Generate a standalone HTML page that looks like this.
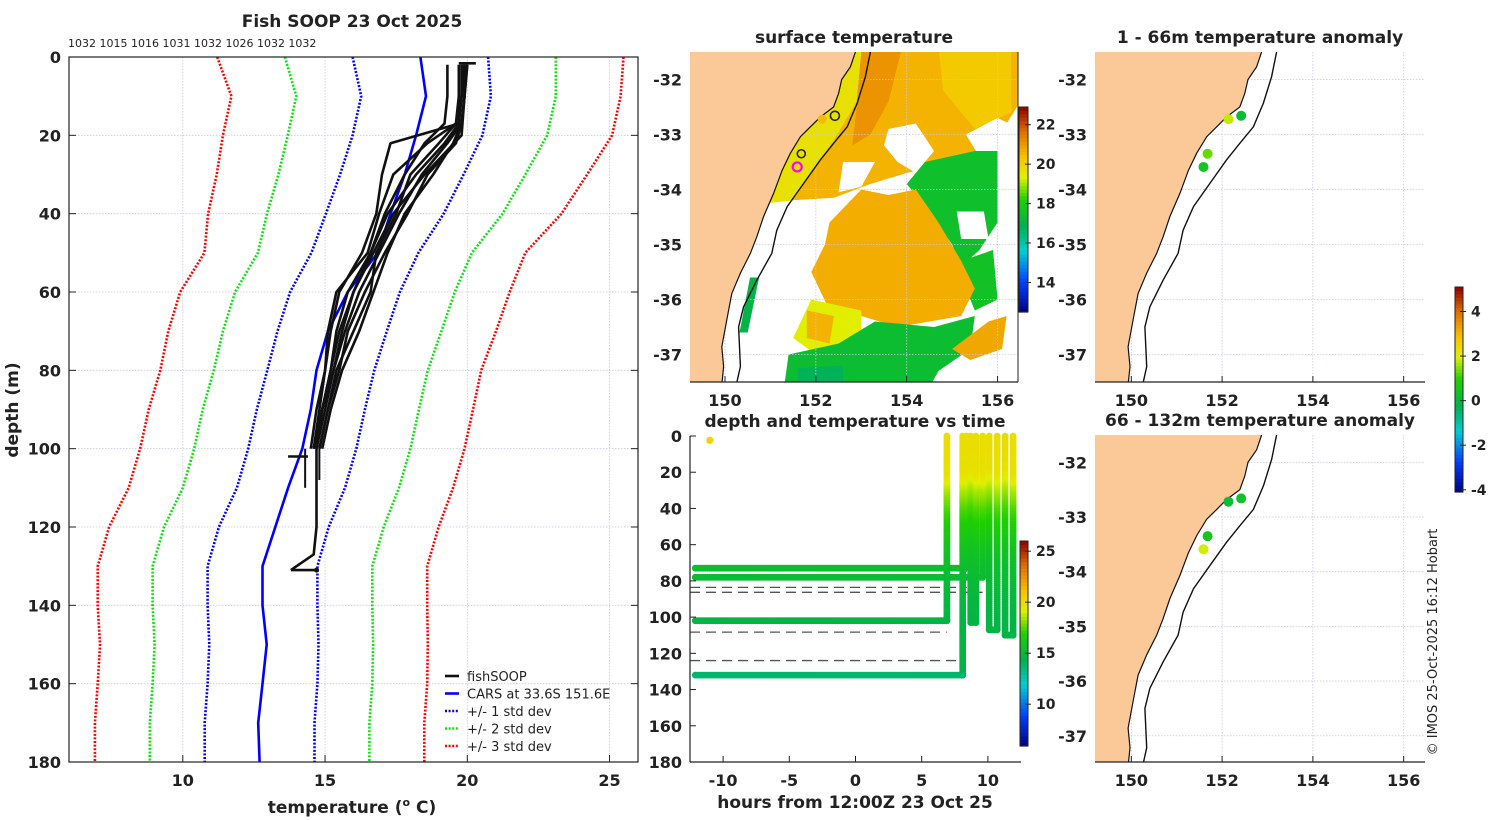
<!DOCTYPE html>
<html><head><meta charset="utf-8">
<style>
html,body{margin:0;padding:0;background:#fff;}
svg{display:block;font-family:"DejaVu Sans","Liberation Sans",sans-serif;}
.b{font-weight:bold;fill:#222;}
</style></head>
<body>
<svg id="fig" xmlns="http://www.w3.org/2000/svg" width="1500" height="820" viewBox="0 0 1500 820">
<rect x="0" y="0" width="1500" height="820" fill="#fff"/>
</svg>
<script>
// ---------- profile panel data ----------
const depthLevels = [0,10,20,30,40,50,60,70,80,90,100,110,120,130,140,150,160,170,180];
const carsMean = [18.35,18.55,18.2,17.8,17.3,16.85,15.8,15.1,14.7,14.5,14.2,13.7,13.25,12.8,12.8,12.95,12.8,12.65,12.7];
const bandMean = [18.35,18.55,18.25,17.7,17.1,16.4,15.7,15.25,14.85,14.5,14.2,13.8,13.2,12.8,12.8,12.85,12.8,12.7,12.7];
const bandStd = [2.38,2.28,2.28,2.17,2.07,1.88,1.93,1.92,1.88,1.9,1.9,1.9,1.93,1.93,1.93,1.92,1.93,1.93,1.93];
const profDepths = [2,10,17,22,30,40,50,60,70,80,90,100];
const prof1 = [19.8,19.8,19.7,17.3,17.0,16.8,16.3,15.5,15.2,15.0,14.8,14.6];
const prof2 = [19.9,19.8,19.6,18.6,17.4,16.9,16.5,15.4,15.1,15.0,14.7,14.5];
const prof3 = [20.0,19.9,19.8,19.3,18.4,17.6,16.9,16.2,15.7,15.3,15.0,14.7];
const prof4 = [19.7,19.7,19.6,19.0,18.0,17.5,16.8,16.6,16.0,15.4,15.1,14.8];
const prof5 = [19.9,19.9,19.8,19.5,18.8,17.8,17.2,16.7,16.2,15.6,15.2,14.9];
const prof6 = [19.8,19.8,19.7,19.2,18.2,17.2,16.6,15.8,15.4,15.2,14.9,14.6];
const prof7 = [20.0,19.9,19.8,19.6,18.6,17.9,17.1,16.4,15.8,15.5,15.1,14.8];
const prof8 = [19.3,19.3,19.2,18.5,17.8,17.1,16.6,16.0,15.6,15.3,14.9,14.6];
const longDepths = [2,10,20,30,40,50,60,70,80,90,100,110,120,127,131];
const longTemps = [19.9,19.9,19.8,18.5,17.4,16.7,16.0,15.5,15.2,14.9,14.7,14.7,14.7,14.6,13.8];
const tempTicks = [10,15,20,25];
const depthTicks = [0,20,40,60,80,100,120,140,160,180];
// ---------- depth/time panel data ----------
const trackA = [[-12.1,102],[6.9,102],[6.9,0]];
const trackB = [[-12.1,132],[8.1,132],[8.1,0]];
const trackC = [[-12.1,73],[8.4,73],[8.4,0]];
const trackD = [[-12.1,78],[9.6,78],[9.6,0]];
const trackE = [[8.7,0],[8.7,103],[9.1,103],[9.1,0]];
const trackF = [[10.1,0],[10.1,107],[10.7,107],[10.7,0]];
const trackG = [[11.3,0],[11.3,110],[11.9,110],[11.9,0]];
const dashDepths = [83.6,86.3,108.3,124];
const dashEnds = [8.4,9.6,6.9,8.1];
const hourTicks = [-10,-5,0,5,10];
// ---------- map data ----------
const coastLon = [152.87,152.76,152.57,152.5,152.39,152.1,151.88,151.66,151.44,151.26,151.07,150.85,150.7,150.56,150.34,150.15,150.04,149.93,149.97,149.93];
const coastLat = [-31.5,-31.77,-32.0,-32.25,-32.5,-32.68,-32.86,-33.04,-33.34,-33.65,-34.07,-34.49,-34.86,-35.16,-35.52,-35.89,-36.37,-36.86,-37.22,-37.55];
const shelfLon = [153.2,153.09,152.91,152.69,152.39,152.1,151.73,151.37,151.14,151.03,150.7,150.41,150.3,150.34,150.25];
const shelfLat = [-31.5,-31.95,-32.43,-32.86,-33.16,-33.46,-33.89,-34.31,-34.74,-35.16,-35.65,-36.13,-36.5,-37.22,-37.55];
const stnLon = [152.14,152.42,151.68,151.59];
const stnLat = [-32.72,-32.66,-33.35,-33.59];
const anomUpper = [1.8,0.2,1.3,0.5];
const anomLower = [0.2,0.4,0.5,1.9];
const lonTicks = [150,152,154,156];
const latTicks = [-32,-33,-34,-35,-36,-37];

const NS='http://www.w3.org/2000/svg';
const svg=document.getElementById('fig');
function mk(parent,tag,attrs,name){
  const el=document.createElementNS(NS,tag);
  for(const k in attrs) el.setAttribute(k,attrs[k]);
  
  
  parent.appendChild(el);
  return el;
}
function txt(parent,x,y,s,size,cls,anchor,name,extra){
  const a={x:x,y:y,'font-size':size,'text-anchor':anchor||'middle',fill:'#222'};
  if(cls) a['class']=cls;
  if(extra) for(const k in extra) a[k]=extra[k];
  const t=mk(parent,'text',a,name);
  t.textContent=s;
  return t;
}
const stops=[[0,[0,0,127]],[0.15,[0,64,255]],[0.3,[0,208,208]],[0.42,[0,176,80]],[0.55,[32,208,0]],[0.66,[224,240,0]],[0.76,[248,192,0]],[0.88,[224,112,0]],[1,[144,0,0]]];
function cmap(t){
  t=Math.max(0,Math.min(1,t));
  for(let i=1;i<stops.length;i++){
    if(t<=stops[i][0]){
      const a=stops[i-1],b=stops[i],f=(t-a[0])/(b[0]-a[0]);
      const c=a[1].map((v,j)=>Math.round(v+(b[1][j]-v)*f));
      return 'rgb('+c.join(',')+')';
    }
  }
  return 'rgb(144,0,0)';
}
function colorbar(x,y,w,h,vmin,vmax,ticks,name){
  const g=mk(svg,'g',{},name);
  const n=60;
  for(let i=0;i<n;i++){
    mk(g,'rect',{x:x,y:y+h-(i+1)*h/n,width:w,height:h/n+0.6,fill:cmap((i+0.5)/n)},'colorbar-segment');
  }
  mk(g,'rect',{x:x,y:y,width:w,height:h,fill:'none',stroke:'#222','stroke-width':1},'colorbar-frame');
  ticks.forEach(v=>{
    const yy=y+h-(v-vmin)/(vmax-vmin)*h;
    mk(g,'line',{x1:x+w-3,x2:x+w+3,y1:yy,y2:yy,stroke:'#222'},'colorbar-tick');
    txt(g,x+w+8,yy+5,String(v),14,'b','start','colorbar-label');
  });
  return g;
}

// ================= LEFT PROFILE PANEL =================
(function(){
  const L=69,R=638,T=57,B=762,tmin=6,tmax=26,dmax=180;
  const X=t=>L+(t-tmin)/(tmax-tmin)*(R-L);
  const Y=d=>T+d/dmax*(B-T);
  const g=mk(svg,'g',{},'profile-panel');
  tempTicks.forEach(t=>mk(g,'line',{x1:X(t),x2:X(t),y1:T,y2:B,stroke:'#c8c8e4','stroke-width':0.8,'stroke-dasharray':'1.5,1.5'},'x-gridline'));
  depthTicks.forEach(d=>mk(g,'line',{x1:L,x2:R,y1:Y(d),y2:Y(d),stroke:'#c8c8e4','stroke-width':0.8,'stroke-dasharray':'1.5,1.5'},'y-gridline'));
  const line=(xs,ys,attrs,name)=>mk(g,'polyline',Object.assign({points:xs.map((v,i)=>X(v).toFixed(1)+','+Y(ys[i]).toFixed(1)).join(' '),fill:'none'},attrs),name);
  const cols={1:'#0000ff',2:'#10e010',3:'#ff0000'};
  [3,2,1].forEach(k=>{
    line(bandMean.map((m,i)=>m-k*bandStd[i]),depthLevels,{stroke:cols[k],'stroke-width':2.6,'stroke-dasharray':'2,1.6'},'std-band-minus-'+k);
    line(bandMean.map((m,i)=>m+k*bandStd[i]),depthLevels,{stroke:cols[k],'stroke-width':2.6,'stroke-dasharray':'2,1.6'},'std-band-plus-'+k);
  });
  line(carsMean,depthLevels,{stroke:'#0000ff','stroke-width':2.6},'cars-mean-line');
  [prof1,prof2,prof3,prof4,prof5,prof6,prof7,prof8].forEach((p,i)=>line(p,profDepths,{stroke:'#111','stroke-width':2.6,'stroke-linejoin':'round'},'fishsoop-profile-'+(i+1)));
  line(longTemps,longDepths,{stroke:'#111','stroke-width':2.6},'fishsoop-profile-deep');
  mk(g,'line',{x1:X(13.8),x2:X(14.7),y1:Y(131),y2:Y(131),stroke:'#111','stroke-width':2.6},'deep-profile-bottom-mark');
  mk(g,'circle',{cx:X(14.7),cy:Y(131),r:2.5,fill:'#111'},'deep-profile-end');
  mk(g,'line',{x1:X(19.7),x2:X(20.3),y1:Y(1.6),y2:Y(1.6),stroke:'#111','stroke-width':2.6},'surface-mark');
  mk(g,'line',{x1:X(13.7),x2:X(14.4),y1:Y(102),y2:Y(102),stroke:'#111','stroke-width':2.6},'profile-end-mark');
  mk(g,'line',{x1:X(14.3),x2:X(14.3),y1:Y(100),y2:Y(110),stroke:'#111','stroke-width':2},'profile-end-tail');
  mk(g,'line',{x1:X(14.8),x2:X(14.8),y1:Y(100),y2:Y(108),stroke:'#111','stroke-width':2},'profile-end-tail');
  mk(g,'rect',{x:L,y:T,width:R-L,height:B-T,fill:'none',stroke:'#222','stroke-width':1.2},'plot-frame');
  tempTicks.forEach(t=>{
    mk(g,'line',{x1:X(t),x2:X(t),y1:B,y2:B-7,stroke:'#222'},'x-tick');
    txt(g,X(t),B+24,String(t),16,'b','middle','x-tick-label');
  });
  depthTicks.forEach(d=>{
    mk(g,'line',{x1:L,x2:L+7,y1:Y(d),y2:Y(d),stroke:'#222'},'y-tick');
    mk(g,'line',{x1:R,x2:R-7,y1:Y(d),y2:Y(d),stroke:'#222'},'y-tick-right');
    txt(g,L-8,Y(d)+6,String(d),16,'b','end','y-tick-label');
  });
  txt(g,352,27,'Fish SOOP 23 Oct 2025',17,'b','middle','chart-title');
  txt(g,68,47,'1032 1015 1016 1031 1032 1026 1032 1032',11,null,'start','profile-id-list');
  const xl=txt(g,352,813,'',17,'b','middle','x-axis-title');
  const t1=mk(xl,'tspan',{},'x-axis-title-text');t1.textContent='temperature (';
  const t2=mk(xl,'tspan',{dy:-7,'font-size':11},'degree-superscript');t2.textContent='o';
  const t3=mk(xl,'tspan',{dy:7},'x-axis-title-unit');t3.textContent=' C)';
  txt(g,18,410,'depth (m)',17,'b','middle','y-axis-title',{transform:'rotate(-90 18 410)'});
  const lg=mk(g,'g',{},'legend');
  const items=[['fishSOOP','#111',null],['CARS at 33.6S 151.6E','#0000ff',null],['+/- 1 std dev','#0000ff','2,1.6'],['+/- 2 std dev','#10e010','2,1.6'],['+/- 3 std dev','#ff0000','2,1.6']];
  items.forEach((it,i)=>{
    const yy=676+i*17.5;
    const a={x1:445,x2:459,y1:yy,y2:yy,stroke:it[1],'stroke-width':2.6};
    if(it[2]) a['stroke-dasharray']=it[2];
    mk(lg,'line',a,'legend-swatch');
    txt(lg,467,yy+5,it[0],13,null,'start','legend-entry');
  });
})();

// ================= DEPTH / TIME PANEL =================
(function(){
  const L=690,R=1021,T=436,B=762,hmin=-12.5,hmax=12.5,dmax=180;
  const X=h=>L+(h-hmin)/(hmax-hmin)*(R-L);
  const Y=d=>T+d/dmax*(B-T);
  const g=mk(svg,'g',{},'depth-time-panel');
  const tAt=d=>{
    const ds=longDepths, ts=longTemps;
    if(d<=ds[0]) return ts[0];
    for(let i=1;i<ds.length;i++) if(d<=ds[i]){const f=(d-ds[i-1])/(ds[i]-ds[i-1]);return ts[i-1]+f*(ts[i]-ts[i-1]);}
    return ts[ts.length-1];
  };
  const tc=t=>cmap((t-5.9)/(26-5.9));
  dashDepths.forEach((d,i)=>mk(g,'line',{x1:L,x2:X(dashEnds[i]),y1:Y(d),y2:Y(d),stroke:'#555','stroke-width':1.3,'stroke-dasharray':'10,6'},'mld-dashed-line'));
  [trackA,trackB,trackC,trackD,trackE,trackF,trackG].forEach((tr,ti)=>{
    const tg=mk(g,'g',{},'temperature-track-'+(ti+1));
    for(let i=1;i<tr.length;i++){
      const x1=X(tr[i-1][0]),y1=Y(tr[i-1][1]),x2=X(tr[i][0]),y2=Y(tr[i][1]);
      const len=Math.hypot(x2-x1,y2-y1),n=Math.max(2,Math.ceil(len/2));
      for(let k=0;k<=n;k++){
        const f=k/n,d=tr[i-1][1]+f*(tr[i][1]-tr[i-1][1]);
        mk(tg,'circle',{cx:(x1+f*(x2-x1)).toFixed(1),cy:(y1+f*(y2-y1)).toFixed(1),r:3.4,fill:tc(tAt(d))},'track-point');
      }
    }
  });
  mk(g,'circle',{cx:X(-11.0),cy:Y(2.4),r:3.6,fill:'#f8d000'},'first-position-dot');
  mk(g,'line',{x1:L,x2:L,y1:T,y2:B,stroke:'#222','stroke-width':1.2},'y-axis-line');
  mk(g,'line',{x1:L,x2:R,y1:B,y2:B,stroke:'#222','stroke-width':1.2},'x-axis-line');
  hourTicks.forEach(h=>{
    mk(g,'line',{x1:X(h),x2:X(h),y1:B,y2:B-6,stroke:'#222'},'x-tick');
    txt(g,X(h),B+24,String(h),16,'b','middle','x-tick-label');
  });
  depthTicks.forEach(d=>{
    mk(g,'line',{x1:L,x2:L+6,y1:Y(d),y2:Y(d),stroke:'#222'},'y-tick');
    txt(g,L-8,Y(d)+6,String(d),16,'b','end','y-tick-label');
  });
  txt(g,855,427,'depth and temperature vs time',17,'b','middle','panel-title');
  txt(g,855,808,'hours from 12:00Z 23 Oct 25',17,'b','middle','x-axis-title');
  colorbar(1020,541,8,205,5.9,26,[10,15,20,25],'time-panel-colorbar');
})();

// ================= MAPS =================
function drawMap(x0,y0,w,h,lonMin,lonMax,latTop,latBot,name,title,extra){
  const g=mk(svg,'g',{},name);
  const X=l=>x0+(l-lonMin)/(lonMax-lonMin)*w;
  const Y=l=>y0+(latTop-l)/(latTop-latBot)*h;
  const cid='clip-'+name;
  const defs=mk(g,'defs',{},'clip-defs');
  const cp=mk(defs,'clipPath',{id:cid},'clip-path');
  mk(cp,'rect',{x:x0,y:y0,width:w,height:h},'clip-rect');
  const inner=mk(g,'g',{'clip-path':'url(#'+cid+')'},'map-content');
  if(extra) extra(inner,X,Y);
  lonTicks.forEach(l=>mk(inner,'line',{x1:X(l),x2:X(l),y1:y0,y2:y0+h,stroke:'#c8c8e4','stroke-width':0.8,'stroke-dasharray':'1.5,1.5'},'lon-gridline'));
  latTicks.forEach(l=>mk(inner,'line',{x1:x0,x2:x0+w,y1:Y(l),y2:Y(l),stroke:'#c8c8e4','stroke-width':0.8,'stroke-dasharray':'1.5,1.5'},'lat-gridline'));
  const cpts=coastLon.map((l,i)=>X(l).toFixed(1)+','+Y(coastLat[i]).toFixed(1));
  mk(inner,'polygon',{points:cpts.join(' ')+' '+(x0-5)+','+(y0+h+5)+' '+(x0-5)+','+(y0-5),fill:'#fbc997',stroke:'none'},'land');
  mk(inner,'polyline',{points:cpts.join(' '),fill:'none',stroke:'#111','stroke-width':1.2},'coastline');
  mk(inner,'polyline',{points:shelfLon.map((l,i)=>X(l).toFixed(1)+','+Y(shelfLat[i]).toFixed(1)).join(' '),fill:'none',stroke:'#111','stroke-width':1.4},'shelf-isobath');
  mk(g,'line',{x1:x0,x2:x0+w,y1:y0+h,y2:y0+h,stroke:'#222','stroke-width':1.2},'x-axis-line');
  lonTicks.forEach(l=>{
    mk(g,'line',{x1:X(l),x2:X(l),y1:y0+h,y2:y0+h-6,stroke:'#222'},'x-tick');
    txt(g,X(l),y0+h+24,String(l),16,'b','middle','lon-tick-label');
  });
  latTicks.forEach(l=>txt(g,x0-8,Y(l)+6,String(l),16,'b','end','lat-tick-label'));
  txt(g,x0+w/2,y0-9,title,17,'b','middle','panel-title');
  return {g:g,X:X,Y:Y};
}

const sstPatches = [
  {t:20.6, p:[[152.9,-31.4],[156.5,-31.4],[156.5,-32.4],[155.9,-33.2],[155.0,-33.5],[154.0,-33.7],[153.2,-33.9],[152.4,-34.15],[151.4,-34.2],[151.3,-33.8],[151.9,-32.9],[152.6,-32.3]]},
  {t:20.2, p:[[154.7,-31.4],[156.3,-31.4],[156.3,-32.6],[155.5,-32.9],[154.8,-32.2]]},
  {t:21.1, p:[[152.95,-31.4],[153.9,-31.4],[153.6,-32.4],[153.2,-33.0],[152.8,-33.2],[152.9,-32.5]]},
  {t:19.7, p:[[152.8,-31.5],[153.0,-31.5],[152.9,-32.4],[152.4,-33.1],[151.9,-33.7],[151.5,-34.2],[150.9,-34.25],[151.25,-33.6],[151.6,-33.0],[152.2,-32.6],[152.5,-32.2]]},
  {t:null, p:[[153.6,-32.9],[154.2,-32.8],[154.6,-33.3],[154.2,-33.7],[153.8,-33.5],[153.5,-33.2]]},
  {t:null, p:[[155.3,-33.0],[156.0,-32.7],[156.5,-32.9],[156.5,-33.3],[155.6,-33.4]]},
  {t:null, p:[[152.6,-33.5],[153.3,-33.5],[153.0,-33.95],[152.5,-34.05]]},
  {t:17.5, p:[[154.4,-33.5],[155.5,-33.3],[156.0,-33.3],[156.0,-34.6],[155.6,-35.1],[155.2,-35.4],[155.0,-35.0],[154.4,-34.3],[154.0,-33.9]]},
  {t:null, p:[[155.1,-34.4],[155.7,-34.4],[155.8,-34.9],[155.2,-34.9]]},
  {t:17.6, p:[[155.2,-35.3],[155.9,-35.1],[156.0,-36.0],[155.5,-36.2],[155.3,-35.8]]},
  {t:20.7, p:[[152.3,-34.6],[153.0,-34.0],[153.6,-34.1],[154.2,-34.0],[154.7,-34.6],[155.2,-35.3],[155.5,-35.8],[155.2,-36.3],[154.5,-36.4],[153.8,-36.5],[153.0,-36.3],[152.3,-36.2],[151.9,-35.5],[152.2,-35.0]]},
  {t:19.4, p:[[151.9,-36.0],[153.0,-36.2],[153.0,-36.8],[152.0,-37.0],[151.5,-36.7]]},
  {t:20.6, p:[[151.8,-36.2],[152.4,-36.3],[152.3,-36.8],[151.8,-36.7]]},
  {t:17.4, p:[[151.4,-37.0],[152.5,-36.8],[153.3,-36.4],[154.6,-36.5],[155.5,-36.3],[155.4,-36.9],[154.7,-37.3],[154.5,-37.6],[151.3,-37.6]]},
  {t:16.8, p:[[151.6,-37.25],[152.6,-37.2],[152.6,-37.6],[151.6,-37.6]]},
  {t:20.8, p:[[155.0,-36.9],[155.8,-36.4],[156.2,-36.3],[156.1,-36.9],[155.4,-37.1]]},
  {t:17.0, p:[[150.55,-35.6],[150.75,-35.6],[150.5,-36.6],[150.32,-36.6]]}
];
const sstMin=12.5, sstMax=22.9;

const sst=drawMap(690,52,328,330,149.23,156.45,-31.5,-37.5,'surface-temperature-map','surface temperature',(g,X,Y)=>{
  sstPatches.forEach(pt=>{
    mk(g,'polygon',{points:pt.p.map(q=>X(q[0]).toFixed(1)+','+Y(q[1]).toFixed(1)).join(' '),fill:pt.t===null?'#fff':cmap((pt.t-sstMin)/(sstMax-sstMin))},'sst-patch');
  });
});
mk(sst.g,'line',{x1:1018,x2:1018,y1:52,y2:382,stroke:'#222','stroke-width':1},'map-right-edge');
mk(sst.g,'circle',{cx:sst.X(stnLon[0]),cy:sst.Y(stnLat[0]),r:4.5,fill:cmap((20.5-sstMin)/(sstMax-sstMin)),stroke:'none'},'station-marker');
mk(sst.g,'circle',{cx:sst.X(stnLon[1]),cy:sst.Y(stnLat[1]),r:4.5,fill:'none',stroke:'#222','stroke-width':1.6},'station-marker');
mk(sst.g,'circle',{cx:sst.X(stnLon[2]),cy:sst.Y(stnLat[2]),r:4,fill:'none',stroke:'#222','stroke-width':1.6},'station-marker');
mk(sst.g,'circle',{cx:sst.X(stnLon[3]),cy:sst.Y(stnLat[3]),r:4.5,fill:'none',stroke:'#ff00ff','stroke-width':2.2},'current-station-marker');
colorbar(1019,107,9,205,sstMin,sstMax,[14,16,18,20,22],'sst-colorbar');

const anMin=-4.1, anMax=5.1;
function anomMap(y0,h,latBot,vals,name,title){
  const m=drawMap(1095,y0,330,h,149.2,156.47,-31.5,latBot,name,title);
  vals.forEach((v,i)=>mk(m.g,'circle',{cx:m.X(stnLon[i]),cy:m.Y(stnLat[i]),r:5,fill:cmap((v-anMin)/(anMax-anMin))},'anomaly-marker'));
}
anomMap(52,330,-37.5,anomUpper,'anomaly-map-1-66m','1 - 66m temperature anomaly');
anomMap(435,327,-37.48,anomLower,'anomaly-map-66-132m','66 - 132m temperature anomaly');
colorbar(1455,287,8,205,anMin,anMax,[-4,-2,0,2,4],'anomaly-colorbar');

txt(svg,1437,642,'© IMOS 25-Oct-2025 16:12 Hobart',13,null,'middle','copyright-note',{transform:'rotate(-90 1437 642)'});
</script>
</body></html>
